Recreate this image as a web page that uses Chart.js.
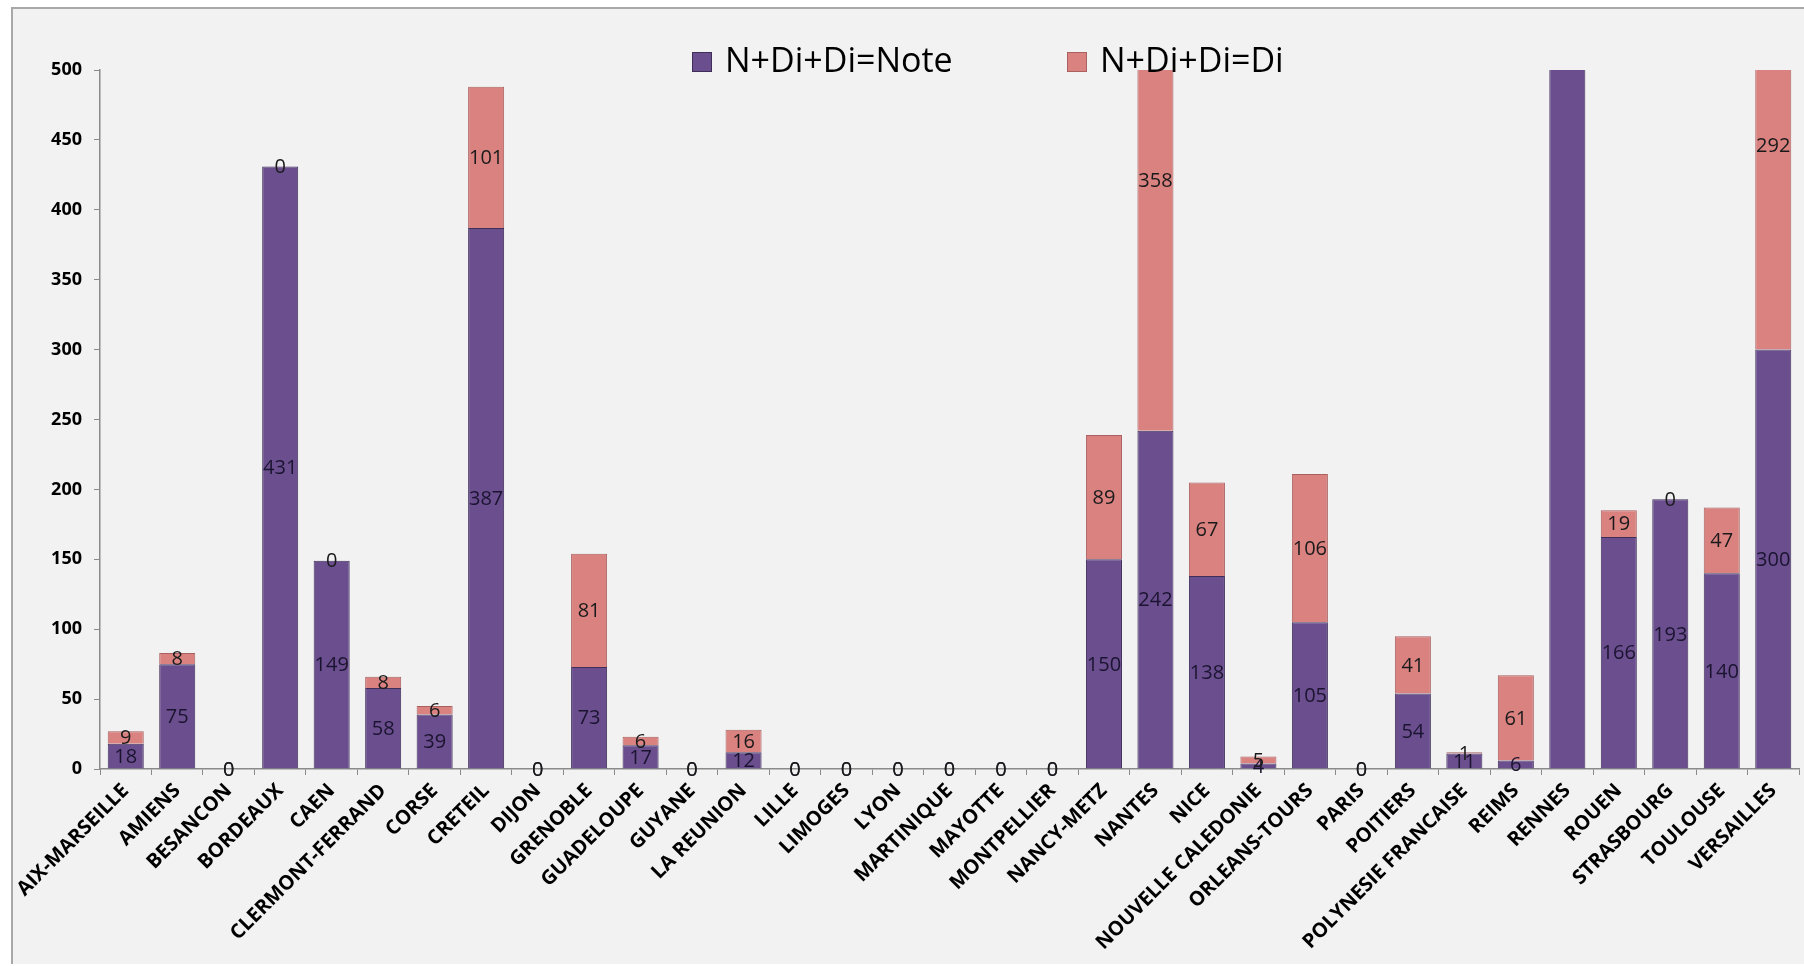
<!DOCTYPE html>
<html>
<head>
<meta charset="utf-8">
<script src="https://cdn.jsdelivr.net/npm/chart.js@4/dist/chart.umd.min.js"></script>
<style>
  html, body { margin: 0; padding: 0; background: #ffffff; }
  #wrap { position: relative; width: 1804px; height: 966px; overflow: hidden; }
  #frame { position: absolute; left: 11px; top: 7px; width: 1820px; height: 957px;
           border: 2px solid #a8a8a8; border-bottom: none; background: #f2f2f2; box-sizing: border-box; }
  #c { position: absolute; left: 0; top: 0; }
</style>
</head>
<body>
<div id="wrap">
  <div id="frame"></div>
  <canvas id="c" width="1804" height="966"></canvas>
</div>
<script>
const categories = ["AIX-MARSEILLE","AMIENS","BESANCON","BORDEAUX","CAEN","CLERMONT-FERRAND","CORSE","CRETEIL","DIJON","GRENOBLE","GUADELOUPE","GUYANE","LA REUNION","LILLE","LIMOGES","LYON","MARTINIQUE","MAYOTTE","MONTPELLIER","NANCY-METZ","NANTES","NICE","NOUVELLE CALEDONIE","ORLEANS-TOURS","PARIS","POITIERS","POLYNESIE FRANCAISE","REIMS","RENNES","ROUEN","STRASBOURG","TOULOUSE","VERSAILLES"];
const seriesNames = ["N+Di+Di=Note", "N+Di+Di=Di"];
const noteValues = [18,75,0,431,149,58,39,387,0,73,17,0,12,0,0,0,0,0,0,150,242,138,4,105,0,54,11,6,1050,166,193,140,300];
const diValues   = [9,8,0,0,0,8,6,101,0,81,6,0,16,0,0,0,0,0,0,89,358,67,5,106,0,41,1,61,0,19,0,47,292];
const yTicks = [0,50,100,150,200,250,300,350,400,450,500];

const purple = "#6a4e8e", purpleBorder = "#3e2e5a";
const pink = "#d98280", pinkBorder = "#a9605f";

const dataLabels = {
  id: "dataLabels",
  afterDatasetsDraw(chart) {
    const ctx = chart.ctx, a = chart.chartArea;
    ctx.save();
    ctx.beginPath();
    ctx.rect(a.left, a.top, a.right - a.left, a.bottom - a.top + 30);
    ctx.clip();
    ctx.font = '20px "Open Sans"';
    ctx.textAlign = "center";
    ctx.textBaseline = "middle";
    chart.data.datasets.forEach((ds, di) => {
      const meta = chart.getDatasetMeta(di);
      ctx.fillStyle = di === 0 ? "#1b1430" : "#1a1a1a";
      meta.data.forEach((el, i) => {
        const p = el.getProps(["x", "y", "base"], true);
        const cy = (p.y + p.base) / 2;
        if (cy < a.top) return;
        ctx.fillText(String(ds.data[i]), p.x, cy + 1);
      });
    });
    ctx.restore();
  }
};

const customLegend = {
  id: "customLegend",
  afterDraw(chart) {
    const ctx = chart.ctx;
    const items = [
      { x: 692, color: purple, border: purpleBorder, text: seriesNames[0] },
      { x: 1067, color: pink, border: pinkBorder, text: seriesNames[1] }
    ];
    ctx.save();
    ctx.font = '34px "Open Sans"';
    ctx.textBaseline = "middle";
    ctx.textAlign = "left";
    items.forEach(it => {
      ctx.fillStyle = it.color;
      ctx.fillRect(it.x, 52, 20, 20);
      ctx.strokeStyle = it.border;
      ctx.lineWidth = 1;
      ctx.strokeRect(it.x + 0.5, 52.5, 19, 19);
      ctx.fillStyle = "#000000";
      ctx.fillText(it.text, it.x + 33, 62);
    });
    ctx.restore();
  }
};

new Chart(document.getElementById("c"), {
  type: "bar",
  data: {
    labels: categories,
    datasets: [
      { label: seriesNames[0], data: noteValues, backgroundColor: purple, borderColor: purpleBorder,
        borderWidth: 1, barPercentage: 0.7, categoryPercentage: 1.0 },
      { label: seriesNames[1], data: diValues, backgroundColor: pink, borderColor: pinkBorder,
        borderWidth: 1, barPercentage: 0.7, categoryPercentage: 1.0 }
    ]
  },
  options: {
    responsive: false,
    animation: false,
    devicePixelRatio: 1,
    layout: { padding: { top: 70, right: 5, left: 0, bottom: 0 } },
    plugins: { legend: { display: false }, tooltip: { enabled: false } },
    scales: {
      x: {
        stacked: true,
        offset: true,
        border: { display: true, color: "#8a8a8a", width: 1.5 },
        grid: { display: true, offset: true, drawOnChartArea: false, drawTicks: true, tickLength: 6, color: "#8a8a8a" },
        ticks: {
          autoSkip: false, maxRotation: 45, minRotation: 45, padding: 4,
          color: "#000000", font: { family: "Open Sans", weight: "bold", size: 20 }
        },
        afterFit(scale) { scale.height = 197; }
      },
      y: {
        stacked: true,
        min: 0, max: 500,
        afterBuildTicks(scale) { scale.ticks = yTicks.map(v => ({ value: v })); },
        border: { display: true, color: "#8a8a8a", width: 1.5 },
        grid: { display: true, drawOnChartArea: false, drawTicks: true, tickLength: 6, color: "#8a8a8a" },
        ticks: {
          padding: 12, color: "#000000",
          font: { family: "Open Sans", weight: "bold", size: 18 }
        },
        afterFit(scale) { scale.width = 100; }
      }
    }
  },
  plugins: [dataLabels, customLegend]
});
</script>
</body>
</html>
